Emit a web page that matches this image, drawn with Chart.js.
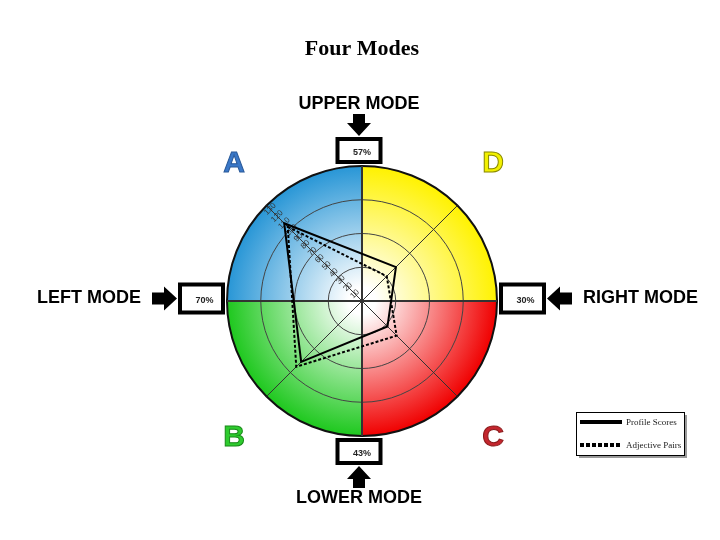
<!DOCTYPE html>
<html>
<head>
<meta charset="utf-8">
<script src="https://cdn.jsdelivr.net/npm/chart.js@4/dist/chart.umd.min.js"></script>
<style>
  html, body { margin: 0; padding: 0; background: #fff; }
  #wrap { width: 720px; height: 540px; }
</style>
</head>
<body>
<div id="wrap"><canvas id="modesChart" width="720" height="540"></canvas></div>
<script>
// quadrant letters, clockwise from the upper-left diagonal
const axisLabels = ['A', 'D', 'C', 'B'];
const profileScores = [110, 48, 36, 86];
const adjectivePairs = [105, 35, 49, 93];
const tickValues = [10, 20, 30, 40, 50, 60, 70, 80, 90, 100, 110, 120, 130];
const ringValues = [33.75, 67.5, 101.25, 135];
// up, right, down, left
const modeNames = ['UPPER MODE', 'RIGHT MODE', 'LOWER MODE', 'LEFT MODE'];
const modePercents = [57, 30, 43, 70];

const quadrantColors = ['#2896d6', '#fff200', '#f00000', '#1ec81e'];
const letterFill = ['#3a78c8', '#f2f000', '#c4262e', '#2ecc2e'];
const letterStroke = ['#2a5a9a', '#8a8a00', '#8a1a1a', '#1a8a1a'];
const modeDirs = [[0, -1], [1, 0], [0, 1], [-1, 0]];

function drawArrow(ctx, tailX, tailY, dx, dy, len) {
  const pts = [[0, -6], [len - 13, -6], [len - 13, -12], [len, 0], [len - 13, 12], [len - 13, 6], [0, 6]];
  ctx.beginPath();
  pts.forEach(([u, v], k) => {
    const x = tailX + u * dx - v * dy;
    const y = tailY + u * dy + v * dx;
    if (k === 0) ctx.moveTo(x, y); else ctx.lineTo(x, y);
  });
  ctx.closePath();
  ctx.fillStyle = '#000';
  ctx.fill();
}

const modesPlugin = {
  id: 'modes',
  beforeDraw(chart) {
    const s = chart.scales.r;
    const ctx = chart.ctx;
    const r = s.drawingArea, cx = s.xCenter, cy = s.yCenter;
    ctx.save();
    axisLabels.forEach((lab, i) => {
      const a = s.getIndexAngle(i) - Math.PI / 2;
      const g = ctx.createRadialGradient(cx, cy, 0, cx, cy, r);
      g.addColorStop(0, '#ffffff');
      g.addColorStop(0.1, '#ffffff');
      g.addColorStop(1, quadrantColors[i]);
      ctx.fillStyle = g;
      ctx.beginPath();
      ctx.moveTo(cx, cy);
      ctx.arc(cx, cy, r, a - Math.PI / 4, a + Math.PI / 4);
      ctx.closePath();
      ctx.fill();
    });
    ctx.restore();
  },
  beforeDatasetsDraw(chart) {
    const s = chart.scales.r;
    const ctx = chart.ctx;
    const r = s.drawingArea, cx = s.xCenter, cy = s.yCenter;
    ctx.save();
    ctx.strokeStyle = '#333';
    ctx.lineWidth = 2;
    ctx.beginPath();
    ctx.moveTo(cx - r, cy); ctx.lineTo(cx + r, cy);
    ctx.moveTo(cx, cy - r); ctx.lineTo(cx, cy + r);
    ctx.stroke();
    ctx.restore();
  },
  afterDraw(chart) {
    const s = chart.scales.r;
    const ctx = chart.ctx;
    const r = s.drawingArea, cx = s.xCenter, cy = s.yCenter;
    ctx.save();

    // quadrant letters
    ctx.font = 'bold 30px "Liberation Sans", Arial, sans-serif';
    ctx.textAlign = 'center';
    ctx.textBaseline = 'middle';
    ctx.lineWidth = 1;
    chart.data.labels.forEach((lab, i) => {
      const p = s.getPointPosition(i, 10);
      const sx = Math.sign(p.x - cx), sy = Math.sign(p.y - cy);
      const x = cx + sx * 128 + (sx > 0 ? 3 : 0);
      const y = cy + sy * 137;
      ctx.fillStyle = letterFill[i];
      ctx.fillText(lab, x, y);
      ctx.strokeStyle = letterStroke[i];
      ctx.strokeText(lab, x, y);
    });

    // mode boxes, arrows and names
    modeNames.forEach((name, i) => {
      const [dx, dy] = modeDirs[i];
      const vertical = dx === 0;
      const bw = 43, bh = vertical ? 23 : 28;
      const dist = vertical ? 15.5 : 25.5;
      const bx = cx + dx * (r + dist) + (vertical ? -3 : 0);
      const by = cy + dy * (r + dist) + (vertical ? 0 : -2.5);
      ctx.strokeStyle = '#000';
      ctx.lineWidth = 4;
      ctx.fillStyle = '#fff';
      ctx.fillRect(bx - bw / 2, by - bh / 2, bw, bh);
      ctx.strokeRect(bx - bw / 2, by - bh / 2, bw, bh);
      ctx.fillStyle = '#222';
      ctx.font = 'bold 9px "Liberation Sans", Arial, sans-serif';
      ctx.textAlign = 'center';
      ctx.textBaseline = 'middle';
      ctx.fillText(modePercents[i] + '%', bx + 3, by + 2);

      const half = vertical ? bh / 2 : bw / 2;
      const tipX = bx + dx * (half + 3), tipY = by + dy * (half + 3);
      const len = vertical ? 22 : 25;
      const tailX = tipX + dx * len, tailY = tipY + dy * len;
      drawArrow(ctx, tailX, tailY, -dx, -dy, len);

      ctx.fillStyle = '#000';
      ctx.font = 'bold 18px "Liberation Sans", Arial, sans-serif';
      if (vertical) {
        ctx.textAlign = 'center';
        ctx.fillText(name, tailX, tailY + dy * 10);
      } else {
        ctx.textAlign = dx > 0 ? 'left' : 'right';
        ctx.fillText(name, tailX + dx * 11, tailY);
      }
    });

    // legend box
    const lx = 576, ly = 412, lw = 108, lh = 43;
    ctx.fillStyle = '#9a9a9a';
    ctx.fillRect(lx + 3, ly + 3, lw, lh);
    ctx.fillStyle = '#fff';
    ctx.fillRect(lx, ly, lw, lh);
    ctx.strokeStyle = '#000';
    ctx.lineWidth = 1;
    ctx.strokeRect(lx + 0.5, ly + 0.5, lw, lh);
    chart.data.datasets.forEach((ds, i) => {
      const y = ly + 10 + i * 23;
      ctx.strokeStyle = '#000';
      ctx.lineWidth = 4;
      ctx.setLineDash(ds.borderDash && ds.borderDash.length ? [4, 2] : []);
      ctx.beginPath();
      ctx.moveTo(lx + 4, y);
      ctx.lineTo(lx + 46, y);
      ctx.stroke();
      ctx.setLineDash([]);
      ctx.fillStyle = '#222';
      ctx.font = '9px "Liberation Serif", "Times New Roman", serif';
      ctx.textAlign = 'left';
      ctx.textBaseline = 'middle';
      ctx.fillText(ds.label, lx + 50, y + 1);
    });
    ctx.restore();
  }
};

new Chart(document.getElementById('modesChart'), {
  type: 'radar',
  data: {
    labels: axisLabels,
    datasets: [
      {
        label: 'Profile Scores',
        data: profileScores,
        borderColor: '#000',
        borderWidth: 2,
        fill: false,
        pointRadius: 0
      },
      {
        label: 'Adjective Pairs',
        data: adjectivePairs,
        borderColor: '#000',
        borderWidth: 2,
        borderDash: [3, 2],
        fill: false,
        pointRadius: 0
      }
    ]
  },
  options: {
    responsive: false,
    animation: false,
    elements: { line: { tension: 0 } },
    layout: { padding: { top: 20, left: 221, right: 217, bottom: 97 } },
    plugins: {
      legend: { display: false },
      tooltip: { enabled: false },
      title: {
        display: true,
        text: 'Four Modes',
        color: '#000',
        font: { family: '"Liberation Serif", "Times New Roman", serif', size: 22, weight: 'bold' },
        padding: { top: 16, bottom: 98 }
      }
    },
    scales: {
      r: {
        min: 0,
        max: 135,
        startAngle: -45,
        afterBuildTicks: (scale) => {
          scale.ticks = [0, ...tickValues, ...ringValues].map(v => ({ value: v }));
        },
        ticks: {
          display: true,
          showLabelBackdrop: false,
          color: '#333',
          font: { family: '"Liberation Sans", Arial, sans-serif', size: 8 },
          callback: (v) => tickValues.includes(v) ? String(v) : ''
        },
        grid: {
          circular: true,
          color: (c) => ringValues.includes(c.tick.value) ? (c.tick.value === 135 ? '#111' : '#444') : 'rgba(0,0,0,0)',
          lineWidth: (c) => c.tick.value === 135 ? 2 : 1
        },
        angleLines: { display: true, color: '#333', lineWidth: 1 },
        pointLabels: { display: false }
      }
    }
  },
  plugins: [modesPlugin]
});
</script>
</body>
</html>
